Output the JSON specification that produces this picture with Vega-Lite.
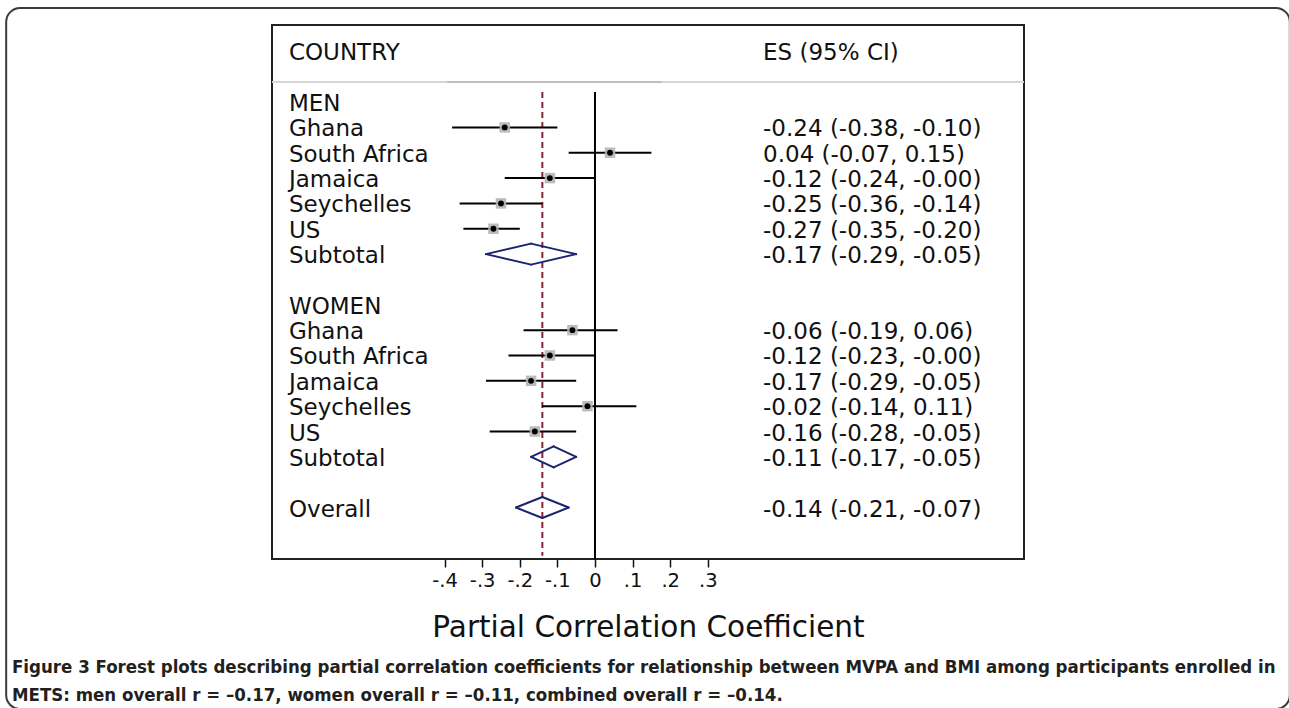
{
  "$schema": "https://vega.github.io/schema/vega-lite/v6.json",
  "width": 752,
  "height": 534,
  "autosize": {"type": "none"},
  "padding": {"left": 272, "top": 25, "right": 265, "bottom": 149},
  "background": "white",
  "config": {"view": {"stroke": "#222222", "strokeWidth": 2}, "font": "DejaVu Sans"},
  "title": {
    "text": ["Figure 3 Forest plots describing partial correlation coefficients for relationship between MVPA and BMI among participants enrolled in", "METS: men overall r = –0.17, women overall r = –0.11, combined overall r = –0.14."],
    "orient": "bottom",
    "anchor": "start",
    "frame": "group",
    "dx": -260,
    "offset": -52,
    "font": "DejaVu Sans Condensed, Liberation Sans",
    "fontSize": 18.5,
    "fontWeight": "bold",
    "lineHeight": 28,
    "color": "#231f20"
  },
  "data": {
    "values": [
      {"label": "COUNTRY", "es": "ES (95% CI)", "row": 0, "type": "header"},
      {"label": "MEN", "es": "", "row": 2, "type": "group"},
      {"label": "Ghana", "es": "-0.24 (-0.38, -0.10)", "row": 3, "type": "study", "est": -0.24, "lo": -0.38, "hi": -0.10},
      {"label": "South Africa", "es": "0.04 (-0.07, 0.15)", "row": 4, "type": "study", "est": 0.04, "lo": -0.07, "hi": 0.15},
      {"label": "Jamaica", "es": "-0.12 (-0.24, -0.00)", "row": 5, "type": "study", "est": -0.12, "lo": -0.24, "hi": 0.0},
      {"label": "Seychelles", "es": "-0.25 (-0.36, -0.14)", "row": 6, "type": "study", "est": -0.25, "lo": -0.36, "hi": -0.14},
      {"label": "US", "es": "-0.27 (-0.35, -0.20)", "row": 7, "type": "study", "est": -0.27, "lo": -0.35, "hi": -0.20},
      {"label": "Subtotal", "es": "-0.17 (-0.29, -0.05)", "row": 8, "type": "subtotal", "est": -0.17, "lo": -0.29, "hi": -0.05},
      {"label": "WOMEN", "es": "", "row": 10, "type": "group"},
      {"label": "Ghana", "es": "-0.06 (-0.19, 0.06)", "row": 11, "type": "study", "est": -0.06, "lo": -0.19, "hi": 0.06},
      {"label": "South Africa", "es": "-0.12 (-0.23, -0.00)", "row": 12, "type": "study", "est": -0.12, "lo": -0.23, "hi": 0.0},
      {"label": "Jamaica", "es": "-0.17 (-0.29, -0.05)", "row": 13, "type": "study", "est": -0.17, "lo": -0.29, "hi": -0.05},
      {"label": "Seychelles", "es": "-0.02 (-0.14, 0.11)", "row": 14, "type": "study", "est": -0.02, "lo": -0.14, "hi": 0.11},
      {"label": "US", "es": "-0.16 (-0.28, -0.05)", "row": 15, "type": "study", "est": -0.16, "lo": -0.28, "hi": -0.05},
      {"label": "Subtotal", "es": "-0.11 (-0.17, -0.05)", "row": 16, "type": "subtotal", "est": -0.11, "lo": -0.17, "hi": -0.05},
      {"label": "Overall", "es": "-0.14 (-0.21, -0.07)", "row": 18, "type": "overall", "est": -0.14, "lo": -0.21, "hi": -0.07}
    ]
  },
  "layer": [
    {
      "data": {"values": [{}]},
      "mark": {"type": "rect", "filled": false, "stroke": "#3a3a3a", "strokeWidth": 2, "cornerRadius": 14, "clip": false},
      "encoding": {
        "x": {"datum": -1.566, "type": "quantitative", "scale": {"domain": [-0.859, 1.141], "zero": false, "nice": false},
          "axis": {"values": [-0.4, -0.3, -0.2, -0.1, 0, 0.1, 0.2, 0.3], "labelExpr": "datum.value == 0 ? '0' : replace(replace(format(datum.value, '.1f'), '0.', '.'), '\u2212', '-')", "domain": false, "grid": false, "ticks": true, "tickSize": 8, "tickWidth": 1.5, "tickColor": "#111111", "labelPadding": 4, "labelFont": "DejaVu Sans", "labelFontSize": 19.5, "labelColor": "#111111", "title": "Partial Correlation Coefficient", "titleFont": "DejaVu Sans", "titleFontSize": 29.5, "titleFontWeight": "normal", "titleColor": "#111111", "titlePadding": 24}},
        "x2": {"datum": 1.848},
        "y": {"datum": -1.711, "type": "quantitative", "scale": {"domain": [-1.04, 20.03], "zero": false, "nice": false, "reverse": true}, "axis": null},
        "y2": {"datum": 25.95}
      }
    },
    {
      "data": {"values": [{}]},
      "mark": {"type": "rule", "color": "#d6d6d6", "strokeWidth": 2},
      "encoding": {
        "x": {"datum": -0.859, "type": "quantitative", "title": "Partial Correlation Coefficient"},
        "x2": {"datum": 1.141},
        "y": {"datum": 1.213, "type": "quantitative", "axis": null}
      }
    },
    {
      "data": {"values": [{}]},
      "mark": {"type": "rule", "color": "#bdbdbd", "strokeWidth": 2},
      "encoding": {
        "x": {"datum": -0.393, "type": "quantitative", "title": "Partial Correlation Coefficient"},
        "x2": {"datum": 0.178},
        "y": {"datum": 1.213, "type": "quantitative", "axis": null}
      }
    },
    {
      "data": {"values": [{}]},
      "mark": {"type": "rule", "color": "#000000", "strokeWidth": 2},
      "encoding": {
        "x": {"datum": 0, "type": "quantitative", "title": "Partial Correlation Coefficient"},
        "y": {"datum": 1.6, "type": "quantitative", "axis": null},
        "y2": {"datum": 20.03}
      }
    },
    {
      "transform": [{"filter": "datum.type == 'overall'"}],
      "mark": {"type": "rule", "color": "#8b2332", "strokeWidth": 2, "strokeDash": [6, 4]},
      "encoding": {
        "x": {"field": "est", "type": "quantitative", "title": "Partial Correlation Coefficient"},
        "y": {"datum": 1.6, "type": "quantitative", "axis": null},
        "y2": {"datum": 19.9}
      }
    },
    {
      "transform": [{"filter": "datum.type == 'study'"}],
      "mark": {"type": "rule", "color": "#000000", "strokeWidth": 2},
      "encoding": {
        "x": {"field": "lo", "type": "quantitative", "title": "Partial Correlation Coefficient"},
        "x2": {"field": "hi"},
        "y": {"field": "row", "type": "quantitative", "axis": null}
      }
    },
    {
      "transform": [{"filter": "datum.type == 'study'"}],
      "mark": {"type": "point", "shape": "square", "filled": true, "color": "#b5b5b5", "opacity": 0.9, "size": 110},
      "encoding": {
        "x": {"field": "est", "type": "quantitative", "title": "Partial Correlation Coefficient"},
        "y": {"field": "row", "type": "quantitative", "axis": null}
      }
    },
    {
      "transform": [{"filter": "datum.type == 'study'"}],
      "mark": {"type": "point", "shape": "circle", "filled": true, "color": "#000000", "opacity": 1, "size": 34},
      "encoding": {
        "x": {"field": "est", "type": "quantitative", "title": "Partial Correlation Coefficient"},
        "y": {"field": "row", "type": "quantitative", "axis": null}
      }
    },
    {
      "transform": [{"filter": "datum.type == 'subtotal' || datum.type == 'overall'"}],
      "mark": {"type": "rule", "color": "#1c2470", "strokeWidth": 2, "strokeCap": "round", "y2Offset": -10.5},
      "encoding": {
        "x": {"field": "lo", "type": "quantitative", "title": "Partial Correlation Coefficient"},
        "x2": {"field": "est"},
        "y": {"field": "row", "type": "quantitative", "axis": null},
        "y2": {"field": "row"}
      }
    },
    {
      "transform": [{"filter": "datum.type == 'subtotal' || datum.type == 'overall'"}],
      "mark": {"type": "rule", "color": "#1c2470", "strokeWidth": 2, "strokeCap": "round", "y2Offset": 10.5},
      "encoding": {
        "x": {"field": "lo", "type": "quantitative", "title": "Partial Correlation Coefficient"},
        "x2": {"field": "est"},
        "y": {"field": "row", "type": "quantitative", "axis": null},
        "y2": {"field": "row"}
      }
    },
    {
      "transform": [{"filter": "datum.type == 'subtotal' || datum.type == 'overall'"}],
      "mark": {"type": "rule", "color": "#1c2470", "strokeWidth": 2, "strokeCap": "round", "yOffset": -10.5},
      "encoding": {
        "x": {"field": "est", "type": "quantitative", "title": "Partial Correlation Coefficient"},
        "x2": {"field": "hi"},
        "y": {"field": "row", "type": "quantitative", "axis": null},
        "y2": {"field": "row"}
      }
    },
    {
      "transform": [{"filter": "datum.type == 'subtotal' || datum.type == 'overall'"}],
      "mark": {"type": "rule", "color": "#1c2470", "strokeWidth": 2, "strokeCap": "round", "yOffset": 10.5},
      "encoding": {
        "x": {"field": "est", "type": "quantitative", "title": "Partial Correlation Coefficient"},
        "x2": {"field": "hi"},
        "y": {"field": "row", "type": "quantitative", "axis": null},
        "y2": {"field": "row"}
      }
    },
    {
      "mark": {"type": "text", "align": "left", "baseline": "middle", "dy": 2, "font": "DejaVu Sans", "fontSize": 23, "color": "#111111"},
      "encoding": {
        "x": {"datum": -0.814, "type": "quantitative", "title": "Partial Correlation Coefficient"},
        "y": {"field": "row", "type": "quantitative", "axis": null},
        "text": {"field": "label"}
      }
    },
    {
      "mark": {"type": "text", "align": "left", "baseline": "middle", "dy": 2, "font": "DejaVu Sans", "fontSize": 23, "color": "#111111"},
      "encoding": {
        "x": {"datum": 0.447, "type": "quantitative", "title": "Partial Correlation Coefficient"},
        "y": {"field": "row", "type": "quantitative", "axis": null},
        "text": {"field": "es"}
      }
    }
  ]
}
